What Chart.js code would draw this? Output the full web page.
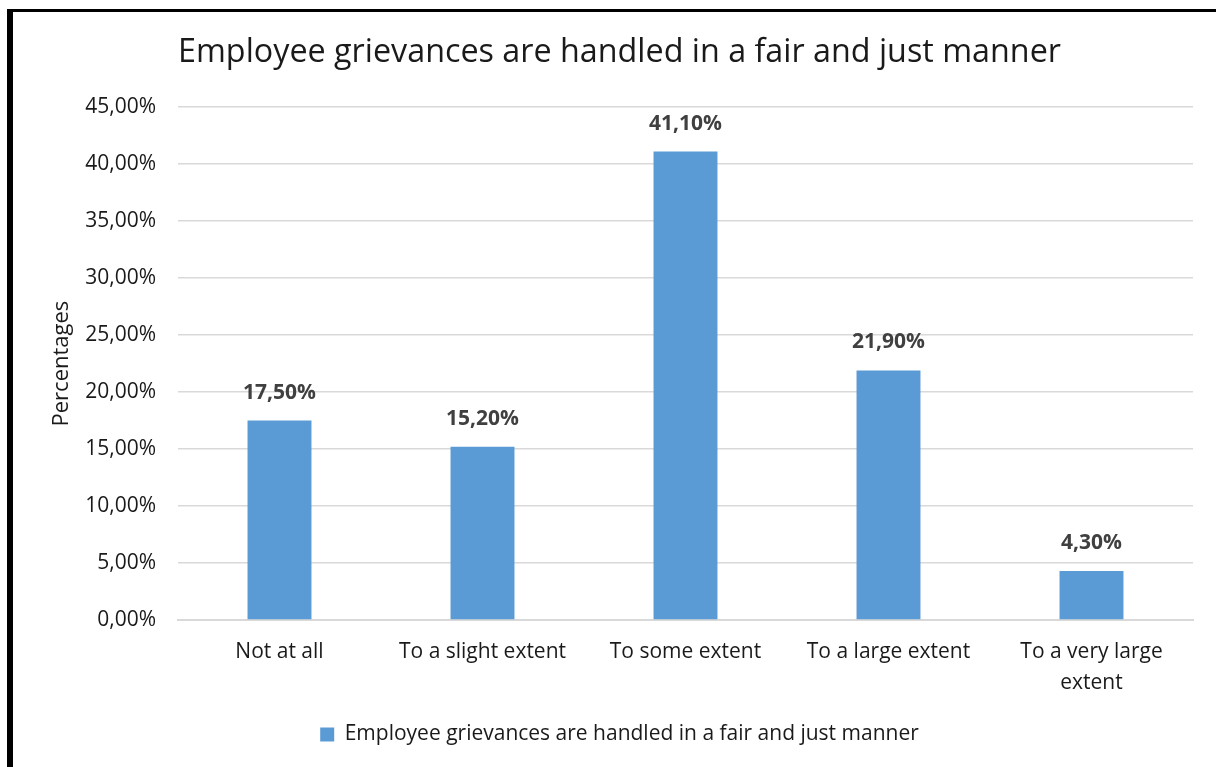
<!DOCTYPE html>
<html>
<head>
<meta charset="utf-8">
<script src="https://cdn.jsdelivr.net/npm/chart.js@4.4.1/dist/chart.umd.min.js"></script>
<style>
  html, body { margin: 0; padding: 0; background: #fff; }
  #wrap { position: relative; width: 1216px; height: 767px; overflow: hidden; }
  #wrap canvas { position: absolute; left: 0; top: 0; }
  /* black frame around the figure, only left and top edges fall inside the page */
  #frame {
    position: absolute; left: 7px; top: 9px; right: -20px; bottom: -20px;
    border-left: 6px solid #000; border-top: 3px solid #000;
    pointer-events: none;
  }
</style>
</head>
<body>
<div id="wrap">
  <canvas id="chart" width="1216" height="767"></canvas>
  <div id="frame"></div>
</div>
<script>
const FONT = '"Open Sans", "Noto Sans", sans-serif';

const chartTitle = 'Employee grievances are handled in a fair and just manner';
const seriesLabel = 'Employee grievances are handled in a fair and just manner';
const categories = ['Not at all', 'To a slight extent', 'To some extent', 'To a large extent', ['To a very large', 'extent']];
const percentages = [17.5, 15.2, 41.1, 21.9, 4.3];
const yMin = 0;
const yMax = 45;
const yStep = 5;

const fmtPct = v => v.toFixed(2).replace('.', ',') + '%';

// value labels above each bar
const barValueLabels = {
  id: 'barValueLabels',
  afterDatasetsDraw(chart) {
    const ctx = chart.ctx;
    const meta = chart.getDatasetMeta(0);
    ctx.save();
    ctx.font = 'bold 21px ' + FONT;
    ctx.fillStyle = '#404040';
    ctx.textAlign = 'center';
    ctx.textBaseline = 'middle';
    meta.data.forEach((bar, i) => {
      ctx.fillText(fmtPct(percentages[i]), bar.x, bar.y - 28);
    });
    ctx.restore();
  }
};

const ctx = document.getElementById('chart').getContext('2d');
new Chart(ctx, {
  type: 'bar',
  data: {
    labels: categories,
    datasets: [{
      label: seriesLabel,
      data: percentages,
      backgroundColor: '#5b9bd5',
      borderWidth: 0,
      barPercentage: 0.315,
      categoryPercentage: 1
    }]
  },
  options: {
    responsive: false,
    animation: false,
    layout: { padding: { left: 46, right: 23, top: 0, bottom: 12 } },
    plugins: {
      title: {
        display: true,
        text: chartTitle,
        color: '#1a1a1a',
        font: { family: FONT, size: 32.3, weight: 'normal' },
        padding: { top: 33, bottom: 35.4 }
      },
      legend: {
        position: 'bottom',
        labels: {
          boxWidth: 14,
          boxHeight: 14,
          color: '#1a1a1a',
          font: { family: FONT, size: 21 },
          padding: 10
        }
      },
      tooltip: { enabled: false }
    },
    scales: {
      x: {
        grid: { display: false, drawTicks: false },
        border: { display: true, color: '#d9d9d9', width: 2 },
        ticks: {
          color: '#1a1a1a',
          font: { family: FONT, size: 21, lineHeight: 1.5 },
          padding: 16,
          maxRotation: 0,
          autoSkip: false
        },
        afterFit(scale) { scale.height = 94; }
      },
      y: {
        min: yMin,
        max: yMax,
        grid: { color: '#d9d9d9', lineWidth: 1.5, drawTicks: false },
        border: { display: false },
        ticks: {
          stepSize: yStep,
          color: '#1a1a1a',
          font: { family: FONT, size: 21 },
          padding: 22,
          callback: v => fmtPct(v)
        },
        title: {
          display: true,
          text: 'Percentages',
          color: '#1a1a1a',
          font: { family: FONT, size: 22 },
          padding: { top: 3, bottom: 0 }
        },
        afterFit(scale) { scale.width = 132; }
      }
    }
  },
  plugins: [barValueLabels]
});
</script>
</body>
</html>
